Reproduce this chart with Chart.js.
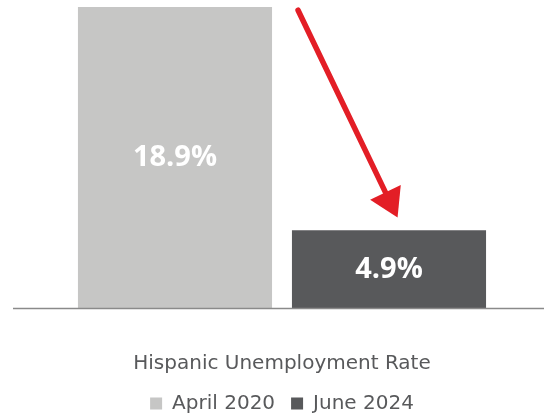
<!DOCTYPE html>
<html>
	<head>
		<meta charset="utf-8">
		<script src="https://cdn.jsdelivr.net/npm/chart.js@4/dist/chart.umd.min.js"></script>
		<title>Hispanic Unemployment Rate</title>
		<style>
			html, body { margin: 0; padding: 0; background: #ffffff; }
			#wrap { width: 544px; height: 415px; }
		</style>
	</head>
	<body>
		<div id="wrap"><canvas id="myChart"></canvas></div>
		<script>
			var labels = ['April 2020', 'June 2024'];
			var rates = [18.9, 4.9];
			var colors = ['#c6c6c5', '#58595b'];
			// arrow in data units: [category index, rate]
			var arrowFrom = [0.575, 18.7];
			var arrowTo = [1.04, 5.7];

			var textColor = '#58595b';

			var extras = {
				id: 'extras',
				afterDatasetsDraw: function (chart) {
					var ctx = chart.ctx;
					var xs = chart.scales.x;
					var ys = chart.scales.y;
					var y0 = ys.getPixelForValue(0);

					// baseline
					ctx.save();
					ctx.strokeStyle = '#8a8a8a';
					ctx.lineWidth = 1.5;
					ctx.beginPath();
					ctx.moveTo(13, y0);
					ctx.lineTo(chart.width, y0);
					ctx.stroke();

					// value labels
					ctx.fillStyle = '#ffffff';
					ctx.font = 'bold 29px "Open Sans"';
					ctx.textAlign = 'center';
					ctx.textBaseline = 'middle';
					chart.getDatasetMeta(0).data.forEach(function (bar, i) {
						ctx.fillText(rates[i].toFixed(1) + '%', bar.x, (bar.y + bar.base) / 2);
					});

					// red arrow
					var x1 = xs.getPixelForValue(arrowFrom[0]);
					var y1 = ys.getPixelForValue(arrowFrom[1]);
					var x2 = xs.getPixelForValue(arrowTo[0]);
					var y2 = ys.getPixelForValue(arrowTo[1]);
					var ang = Math.atan2(y2 - y1, x2 - x1);
					var headLen = 28, headHalf = 17;
					var bx = x2 - headLen * Math.cos(ang);
					var by = y2 - headLen * Math.sin(ang);
					ctx.strokeStyle = '#e31e26';
					ctx.fillStyle = '#e31e26';
					ctx.lineWidth = 5.5;
					ctx.lineCap = 'round';
					ctx.beginPath();
					ctx.moveTo(x1, y1);
					ctx.lineTo(bx + 2 * Math.cos(ang), by + 2 * Math.sin(ang));
					ctx.stroke();
					ctx.beginPath();
					ctx.moveTo(x2, y2);
					ctx.lineTo(bx + headHalf * Math.sin(ang), by - headHalf * Math.cos(ang));
					ctx.lineTo(bx - headHalf * Math.sin(ang), by + headHalf * Math.cos(ang));
					ctx.closePath();
					ctx.fill();
					ctx.restore();
				}
			};

			var chart = new Chart(document.getElementById('myChart'), {
				type: 'bar',
				data: {
					labels: labels,
					datasets: [{
						label: 'Hispanic Unemployment Rate',
						data: rates,
						backgroundColor: colors,
						borderWidth: 0,
						barPercentage: 0.907,
						categoryPercentage: 1
					}]
				},
				plugins: [extras],
				options: {
					responsive: true,
					maintainAspectRatio: false,
					animation: false,
					layout: {
						padding: { top: 7, left: 68, right: 48, bottom: -8.5 }
					},
					scales: {
						x: { display: false },
						y: { display: false, min: 0, max: 18.9 }
					},
					plugins: {
						tooltip: { enabled: false },
						title: {
							display: true,
							position: 'bottom',
							weight: 500,
							text: 'Hispanic Unemployment Rate',
							color: textColor,
							font: { family: 'DejaVu Sans', size: 20, weight: 'normal', lineHeight: 1.2 },
							padding: { top: 43, bottom: 2 }
						},
						legend: {
							display: true,
							position: 'bottom',
							weight: 1000,
							labels: {
								color: textColor,
								font: { family: 'DejaVu Sans', size: 20 },
								boxWidth: 12,
								boxHeight: 12,
								padding: 16,
								generateLabels: function (chart) {
									return labels.map(function (l, i) {
										return {
											text: l,
											fillStyle: colors[i],
											strokeStyle: colors[i],
											lineWidth: 0,
											fontColor: textColor,
											index: i
										};
									});
								}
							}
						}
					}
				}
			});
		</script>
	</body>
</html>
